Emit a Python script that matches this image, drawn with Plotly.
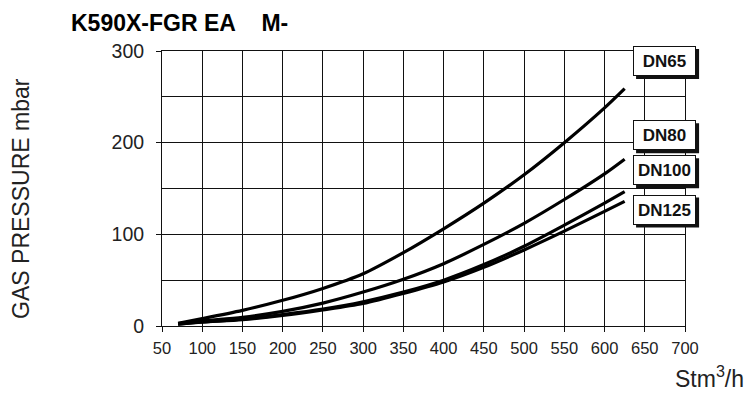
import plotly.graph_objects as go

# Data
flow = [70, 100, 150, 200, 250, 300, 350, 400, 450, 500, 550, 600, 625]
dn65 = [3, 8, 17, 28, 41, 57, 80, 106, 134, 165, 200, 238, 259]
dn80 = [2.5, 5.5, 9.5, 16, 25, 37, 51, 68, 89, 112, 138, 166, 182]
dn100 = [2, 4.5, 7.5, 12.5, 18.5, 26.5, 37, 50, 67, 87, 110, 134, 146.5]
dn125 = [2, 4.2, 7, 11.5, 17.5, 24.5, 35.5, 48, 64, 83, 103.5, 125, 136]

series = [("DN65", dn65), ("DN80", dn80), ("DN100", dn100), ("DN125", dn125)]
label_y = {"DN65": 289, "DN80": 208, "DN100": 170, "DN125": 127}
label_x = 674

title_text = "K590X-FGR EA\u00a0\u00a0\u00a0\u00a0M-"
y_title = "GAS PRESSURE mbar"
x_title = "Stm<sup>3</sup>/h"

FONT = "Liberation Sans, Arial, sans-serif"
X_RANGE = [50, 700]
Y_RANGE = [0, 300]

fig = go.Figure()
for name, vals in series:
    fig.add_trace(go.Scatter(x=flow, y=vals, mode="lines", name=name,
                             line=dict(color="black", width=3.2, shape="spline", smoothing=0.8),
                             showlegend=False, hoverinfo="skip"))

annotations = []
shapes = []
for name, _ in series:
    px = (label_x - X_RANGE[0]) / (X_RANGE[1] - X_RANGE[0])
    py = (label_y[name] - Y_RANGE[0]) / (Y_RANGE[1] - Y_RANGE[0])
    # drop shadow behind each label box (paper refs so it is not clipped)
    shapes.append(dict(type="rect", xref="paper", yref="paper",
                       xsizemode="pixel", ysizemode="pixel",
                       xanchor=px, yanchor=py,
                       x0=-28, x1=35, y0=-18, y1=12,
                       fillcolor="#111", line=dict(width=0), layer="above"))
    annotations.append(dict(x=label_x, y=label_y[name], xref="x", yref="y",
                            text="<b>%s</b>" % name, showarrow=False,
                            font=dict(family=FONT, size=17, color="#111"),
                            bgcolor="white", bordercolor="#111", borderwidth=1,
                            borderpad=1, width=59, height=26))

annotations.append(dict(text="<b>%s</b>" % title_text, xref="paper", yref="paper",
                        x=-0.178, y=1.10, xanchor="left", yanchor="middle",
                        showarrow=False, font=dict(family=FONT, size=23, color="black")))
annotations.append(dict(text=y_title, xref="paper", yref="paper",
                        x=-0.27, y=0.465, xanchor="center", yanchor="middle",
                        textangle=-90, showarrow=False,
                        font=dict(family=FONT, size=23, color="#222")))
annotations.append(dict(text=x_title, xref="paper", yref="paper",
                        x=1.117, y=-0.185, xanchor="right", yanchor="middle",
                        showarrow=False, font=dict(family=FONT, size=23, color="#222")))

fig.update_layout(
    width=749, height=394,
    margin=dict(l=162, r=64, t=51, b=68),
    paper_bgcolor="white", plot_bgcolor="white",
    font=dict(family=FONT, color="#222"),
    annotations=annotations,
    shapes=shapes,
    xaxis=dict(range=X_RANGE, tick0=50, dtick=50, ticks="outside", ticklen=5,
               tickcolor="#111", showgrid=True, gridcolor="#111", gridwidth=1,
               showline=True, mirror=True, linecolor="#111", linewidth=1,
               zeroline=False, ticklabelstandoff=2,
               tickfont=dict(size=16.5, color="#222")),
    yaxis=dict(range=Y_RANGE, tick0=0, dtick=100, ticks="outside", ticklen=5,
               tickcolor="#111", showgrid=True, gridcolor="#111", gridwidth=1,
               minor=dict(dtick=50, showgrid=True, gridcolor="#111", gridwidth=1, ticks=""),
               showline=True, mirror=True, linecolor="#111", linewidth=1,
               zeroline=False, ticklabelstandoff=8,
               tickfont=dict(size=19.5, color="#222")),
)

fig.write_html("out.html", config={"displayModeBar": False},
               post_script="document.body.style.margin='0';document.body.style.overflow='hidden';")
